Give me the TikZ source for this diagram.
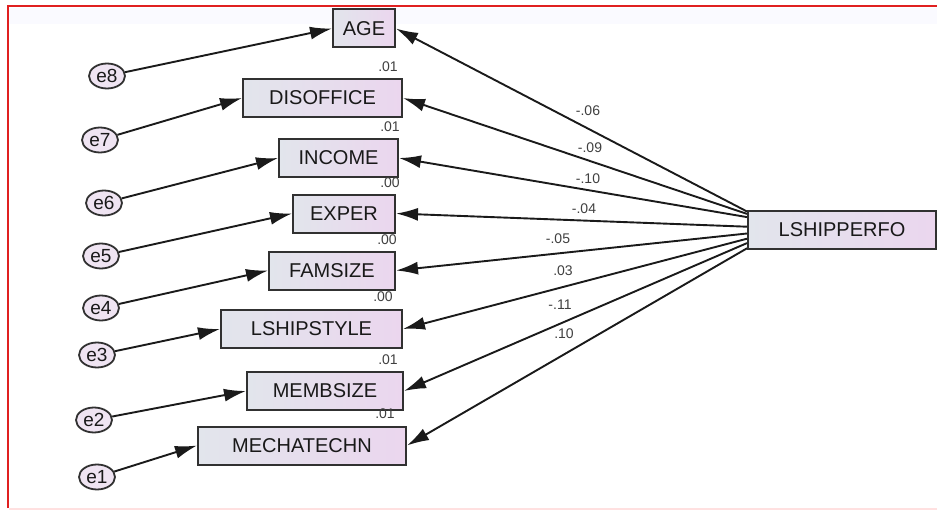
\documentclass[tikz,border=0pt]{standalone}
\usepackage{fontspec}
\setmainfont{Liberation Sans}
\usetikzlibrary{arrows.meta,shapes.geometric,calc}
\definecolor{boxL}{HTML}{E2E5EC}
\definecolor{boxR}{HTML}{EBD6EE}
\definecolor{ellF}{HTML}{EFE4F2}
\definecolor{lineC}{HTML}{1A1A1A}
\definecolor{frameR}{HTML}{E02020}
\tikzset{
  var/.style={draw=lineC!90, line width=2pt, rectangle, minimum height=38pt, inner sep=0pt,
    left color=boxL, right color=boxR, font=\fontsize{20}{20}\selectfont, text=black!90},
  err/.style={draw=lineC!90, line width=1.8pt, ellipse, minimum width=36pt, minimum height=25pt,
    inner sep=0pt, fill=ellF, font=\fontsize{19}{19}\selectfont, text=black!90},
  arr/.style={draw=lineC, line width=1.9pt, -{Latex[length=22pt,width=13pt]}},
  coef/.style={font=\fontsize{14}{14}\selectfont, text=black!75, inner sep=0pt},
}
\begin{document}
\begin{tikzpicture}[x=1pt,y=-1pt]
\useasboundingbox (0,0) rectangle (937,511);
\fill[white] (0,0) rectangle (937,511);
\fill[blue!2] (9,8) rectangle (937,24);
\draw[frameR, line width=1.8pt] (8,508) -- (8,6) -- (937,6);
\draw[red!12, line width=1.2pt] (9,509) -- (937,509);

% observed variables
\node[var, minimum width=62pt]  (AGE)  at (364,28.5) {AGE};
\node[var, minimum width=159pt] (DIS)  at (322.5,98) {DISOFFICE};
\node[var, minimum width=119pt] (INC)  at (338.5,158) {INCOME};
\node[var, minimum width=102pt] (EXP)  at (344,213.5) {EXPER};
\node[var, minimum width=126pt] (FAM)  at (332,270.5) {FAMSIZE};
\node[var, minimum width=181pt] (LSS)  at (311.5,329) {LSHIPSTYLE};
\node[var, minimum width=156pt] (MEM)  at (325,391) {MEMBSIZE};
\node[var, minimum width=208pt] (MECH) at (302,445.5) {MECHATECHN};
\node[var, minimum width=188pt] (L)    at (842,229.5) {LSHIPPERFO};

% error terms
\node[err] (e8) at (107,76) {e8};
\node[err] (e7) at (100,140) {e7};
\node[err] (e6) at (104,203) {e6};
\node[err] (e5) at (101,256) {e5};
\node[err] (e4) at (101,308) {e4};
\node[err] (e3) at (97,355) {e3};
\node[err] (e2) at (94,420) {e2};
\node[err] (e1) at (97,477) {e1};

\draw[arr] (e8) -- (AGE.west);
\draw[arr] (e7) -- (DIS.west);
\draw[arr] (e6) -- (INC.west);
\draw[arr] (e5) -- (EXP.west);
\draw[arr] (e4) -- (FAM.west);
\draw[arr] (e3) -- (LSS.west);
\draw[arr] (e2) -- (MEM.west);
\draw[arr] (e1) -- (MECH.west);

% paths from LSHIPPERFO
\draw[arr] ($(L.north west)!0.05!(L.south west)$) -- (AGE.east);
\draw[arr] ($(L.north west)!0.11!(L.south west)$) -- (DIS.east);
\draw[arr] ($(L.north west)!0.19!(L.south west)$) -- (INC.east);
\draw[arr] ($(L.north west)!0.43!(L.south west)$) -- (EXP.east);
\draw[arr] ($(L.north west)!0.60!(L.south west)$) -- (FAM.east);
\draw[arr] ($(L.north west)!0.73!(L.south west)$) -- (LSS.east);
\draw[arr] ($(L.north west)!0.84!(L.south west)$) -- (MEM.east);
\draw[arr] ($(L.north west)!0.97!(L.south west)$) -- (MECH.east);

% path coefficients
\node[coef] (c1) at (588,111) {-.06};
\node[coef] (c2) at (590,148) {-.09};
\node[coef] (c3) at (588,179) {-.10};
\node[coef] (c4) at (584,209) {-.04};
\node[coef] (c5) at (558,239) {-.05};
\node[coef] (c6) at (563,271) {.03};
\node[coef] (c7) at (560,305) {-.11};
\node[coef] (c8) at (564,334) {.10};

% squared multiple correlations
\node[coef] (r2) at (388,67) {.01};
\node[coef] (r3) at (390,127) {.01};
\node[coef] (r4) at (390,183) {.00};
\node[coef] (r5) at (387,240) {.00};
\node[coef] (r6) at (383,297) {.00};
\node[coef] (r7) at (388,360) {.01};
\node[coef] (r8) at (385,414) {.01};
\end{tikzpicture}
\end{document}
